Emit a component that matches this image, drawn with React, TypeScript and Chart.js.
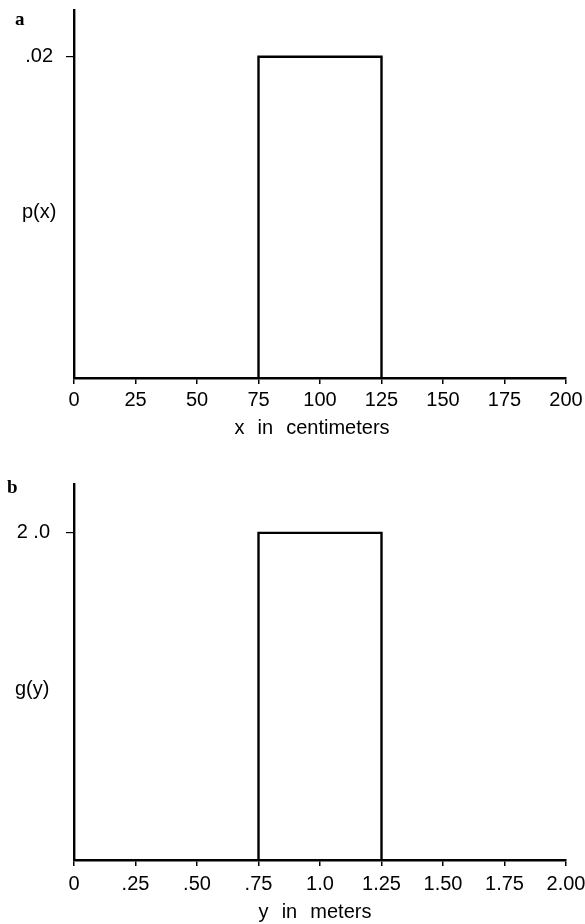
import React, { useEffect, useRef } from "react";
import { Chart, registerables } from "chart.js";

Chart.register(...registerables);

// Panel a data
const aXTicks = [0, 25, 50, 75, 100, 125, 150, 175, 200];
const aXTickLabels = ["0", "25", "50", "75", "100", "125", "150", "175", "200"];
const aYTicks = [0.02];
const aYTickLabels = [".02"];
const aEdges = [75, 125];
const aHeight = 0.02;

// Panel b data
const bXTicks = [0, 0.25, 0.5, 0.75, 1.0, 1.25, 1.5, 1.75, 2.0];
const bXTickLabels = ["0", ".25", ".50", ".75", "1.0", "1.25", "1.50", "1.75", "2.00"];
const bYTicks = [2.0];
const bYTickLabels = ["2 .0"];
const bEdges = [0.75, 1.25];
const bHeight = 2.0;

const FONT = "'Liberation Sans', Arial, Helvetica, sans-serif";

type PanelProps = {
  top: number;
  height: number;
  areaTop: number;
  areaBottom: number;
  tickPad: number;
  yTickPad: number;
  xTicks: number[];
  xLabels: string[];
  yTicks: number[];
  yLabels: string[];
  edges: number[];
  h: number;
  yMax: number;
  letter: string;
  letterX: number;
  letterY: number;
  yTitle: string;
  yTitleX: number;
  yTitleY: number;
  xTitle: string;
  xTitleX: number;
  xTitleY: number;
};

function Panel(p: PanelProps) {
  const ref = useRef<HTMLCanvasElement>(null);
  useEffect(() => {
    const W = 585;
    const left = 74;
    const right = 566;
    const pts = [
      { x: p.edges[0], y: 0 },
      { x: p.edges[0], y: p.h },
      { x: p.edges[1], y: p.h },
      { x: p.edges[1], y: 0 },
    ];
    const textPlugin = {
      id: "texts",
      afterDraw(chart: any) {
        const ctx = chart.ctx;
        ctx.save();
        ctx.fillStyle = "#000";
        ctx.font = "bold 19px 'Liberation Serif', 'Times New Roman', serif";
        ctx.textAlign = "left";
        ctx.textBaseline = "middle";
        ctx.fillText(p.letter, p.letterX, p.letterY);
        ctx.font = `20px ${FONT}`;
        ctx.textAlign = "left";
        ctx.fillText(p.yTitle, p.yTitleX, p.yTitleY);
        ctx.textAlign = "center";
        try {
          (ctx as any).wordSpacing = "1px";
        } catch (e) {}
        ctx.fillText(p.xTitle, p.xTitleX, p.xTitleY);
        ctx.restore();
      },
    };
    const chart = new Chart(ref.current!, {
      type: "line",
      data: {
        datasets: [
          {
            data: pts,
            borderColor: "#000",
            borderWidth: 2.4,
            pointRadius: 0,
            fill: false,
            tension: 0,
          },
        ],
      },
      options: {
        animation: false,
        responsive: false,
        events: [],
        layout: { padding: { top: p.areaTop, right: W - right, left: 0, bottom: 0 } },
        plugins: { legend: { display: false }, tooltip: { enabled: false } },
        scales: {
          x: {
            type: "linear",
            min: p.xTicks[0],
            max: p.xTicks[p.xTicks.length - 1],
            afterBuildTicks: (s: any) => {
              s.ticks = p.xTicks.map((v) => ({ value: v }));
            },
            afterFit: (s: any) => {
              s.height = p.height - p.areaBottom;
              s.paddingLeft = 0;
              s.paddingRight = 0;
            },
            ticks: {
              autoSkip: false,
              maxRotation: 0,
              padding: p.tickPad,
              color: "#000",
              font: { family: FONT, size: 20 },
              callback: (v: any, i: number) => p.xLabels[i],
            },
            grid: {
              display: true,
              drawOnChartArea: false,
              drawTicks: true,
              tickLength: 6,
              color: "#000",
              lineWidth: 1.5,
            },
            border: { display: true, color: "#000", width: 2.4 },
          },
          y: {
            type: "linear",
            min: 0,
            max: p.yMax,
            afterBuildTicks: (s: any) => {
              s.ticks = p.yTicks.map((v) => ({ value: v }));
            },
            afterFit: (s: any) => {
              s.width = left;
            },
            ticks: {
              padding: p.yTickPad,
              color: "#000",
              font: { family: FONT, size: 20 },
              callback: (v: any, i: number) => p.yLabels[i],
            },
            grid: {
              display: true,
              drawOnChartArea: false,
              drawTicks: true,
              tickLength: 8,
              color: "#000",
              lineWidth: 1.2,
            },
            border: { display: true, color: "#000", width: 2.4 },
          },
        },
      },
      plugins: [textPlugin],
    } as any);
    return () => chart.destroy();
  }, []);
  return (
    <canvas
      ref={ref}
      width={585}
      height={p.height}
      style={{ position: "absolute", left: 0, top: p.top, width: 585, height: p.height }}
    />
  );
}

export default function App() {
  return (
    <div
      style={{
        position: "fixed",
        left: 0,
        top: 0,
        width: 585,
        height: 924,
        background: "#fff",
        overflow: "hidden",
      }}
    >
      <Panel
        top={-15}
        height={455}
        areaTop={23}
        areaBottom={393}
        tickPad={4}
        yTickPad={13}
        xTicks={aXTicks}
        xLabels={aXTickLabels}
        yTicks={aYTicks}
        yLabels={aYTickLabels}
        edges={aEdges}
        h={aHeight}
        yMax={0.02291}
        letter="a"
        letterX={15}
        letterY={35}
        yTitle="p(x)"
        yTitleX={22}
        yTitleY={227}
        xTitle="x  in  centimeters"
        xTitleX={312}
        xTitleY={443}
      />
      <Panel
        top={456}
        height={468}
        areaTop={19}
        areaBottom={404}
        tickPad={6}
        yTickPad={16}
        xTicks={bXTicks}
        xLabels={bXTickLabels}
        yTicks={bYTicks}
        yLabels={bYTickLabels}
        edges={bEdges}
        h={bHeight}
        yMax={2.299}
        letter="b"
        letterX={7}
        letterY={32}
        yTitle="g(y)"
        yTitleX={15}
        yTitleY={233}
        xTitle="y  in  meters"
        xTitleX={315}
        xTitleY={456}
      />
    </div>
  );
}
